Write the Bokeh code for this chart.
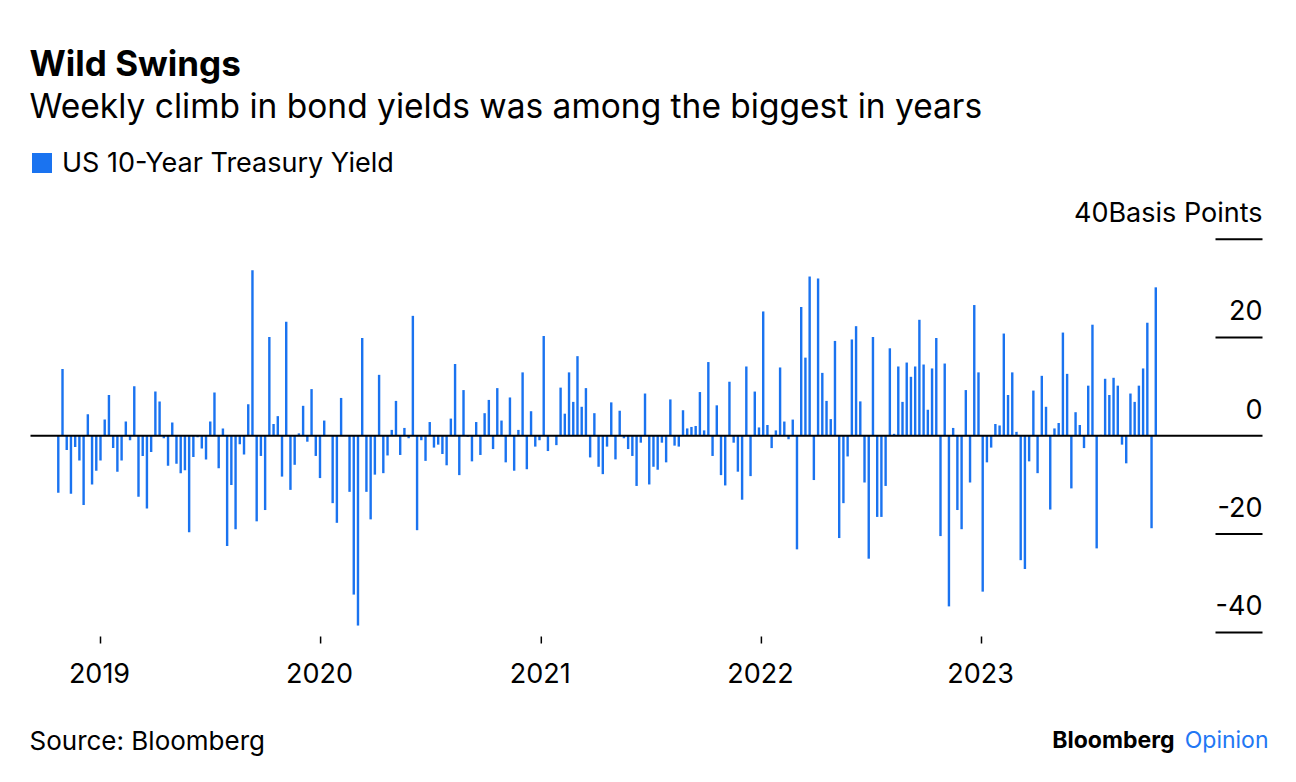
import pandas as pd
from bokeh.plotting import figure
from bokeh.models import Range1d, Label, Legend, LegendItem, ColumnDataSource
from bokeh.core.properties import value
from bokeh.embed import file_html
from bokeh.resources import INLINE

# ---------------- data ----------------
first_week_ending = "2018-10-26"   # weekly (Friday) changes, basis points
changes_bp = [
    -11.6, 13.6, -2.9, -11.8, -2.3, -5.0, -14.1, 4.4, -9.9, -7.1,
    -5.0, 3.3, 8.3, -2.5, -7.3, -5.0, 2.9, -0.9, 10.1, -12.4,
    -4.1, -14.8, -3.3, 9.0, 7.0, -0.5, -6.1, 2.7, -5.7, -7.6,
    -7.0, -19.6, -4.3, -0.3, -2.6, -4.8, 2.9, 8.8, -6.6, 1.5,
    -22.4, -10.0, -19.0, -1.7, -3.8, 6.4, 33.7, -17.4, -4.1, -15.1,
    20.1, 2.4, 4.0, -8.3, 23.2, -11.0, -5.9, 0.5, 6.1, -1.2,
    9.5, -4.1, -8.6, 3.1, 0.1, -13.7, -17.7, 7.7, 0.1, -11.4,
    -32.3, -38.6, 19.9, -11.4, -17.0, -7.9, 12.4, -7.6, -4.0, 1.2,
    7.1, -3.9, 1.6, -0.5, 24.4, -19.2, -0.9, -5.1, 2.8, -2.4,
    -1.8, -3.7, -6.0, 3.5, 14.6, -8.0, 9.3, -0.2, -5.2, 2.8,
    -3.9, 4.6, 7.3, -2.7, 9.7, 3.1, -5.4, 7.8, -7.1, 1.2,
    12.9, -6.8, 5.0, -2.2, -0.9, 20.3, -3.1, 0.1, -1.9, 9.8,
    4.5, 12.9, 6.9, 16.2, 5.9, 9.7, -4.4, 4.6, -6.3, -7.8,
    -2.2, 6.8, -4.8, 5.1, -0.5, -2.7, -4.1, -10.2, -1.4, 8.6,
    -9.9, -6.3, -6.9, -1.4, -5.4, 7.4, -2.0, -2.2, 5.2, 1.5,
    1.8, 2.0, 8.9, 1.1, 15.0, -4.1, 6.2, -8.0, -10.1, 11.0,
    -1.4, -7.3, -13.0, 14.1, -8.2, 9.0, 1.7, 25.3, 2.2, -2.5,
    1.1, 13.9, 2.9, -0.7, 3.3, -23.1, 26.2, 15.9, 32.4, -9.0,
    32.0, 12.8, 7.1, 3.4, 19.3, -20.8, -13.7, -4.2, 19.6, 22.3,
    7.0, -9.5, -25.0, 20.1, -16.5, -16.5, -10.2, 17.8, 0.4, 14.1,
    6.9, 14.9, 12.0, 14.1, 23.6, 14.5, 5.3, 13.7, 19.9, -20.4,
    14.7, -34.7, 1.6, -15.1, -19.0, 9.3, -9.5, 26.6, 12.9, -31.7,
    -5.4, -2.4, 2.4, 2.1, 20.8, 8.3, 12.9, 0.8, -25.3, -27.1,
    -5.2, 9.2, -7.6, 12.2, 5.9, -15.0, 1.5, 2.6, 21.0, 12.6,
    -10.7, 4.8, 2.2, -2.5, 10.2, 22.6, -22.9, 0.2, 11.6, 8.3,
    11.8, 10.2, -1.8, -5.6, 8.6, 6.9, 10.2, 13.7, 23.0, -18.8,
    30.2,
]
year_ticks = ["2019-01-01", "2020-01-01", "2021-01-01", "2022-01-01", "2023-01-01"]
year_labels = ["2019", "2020", "2021", "2022", "2023"]
y_tick_values = [40, 20, 0, -20, -40]
y_tick_labels = ["40Basis Points", "20", "0", "-20", "-40"]
series_name = "US 10-Year Treasury Yield"

title_text = "Wild Swings"
subtitle_text = "Weekly climb in bond yields was among the biggest in years"
source_text = "Source: Bloomberg"

# ---------------- layout / styling constants ----------------
BLUE = "#1a73f0"
FONT = "Inter"
DAY_MS = 86400000
W, H = 1296, 782

px_per_day = (981 - 100) / 1461.0          # horizontal scale
ref_date = pd.Timestamp(year_ticks[0])      # sits at canvas x = 100
px_per_bp = 4.916                           # vertical scale
zero_px = 435.3                             # canvas y of the zero line

def date_at(px):
    return ref_date + pd.Timedelta(days=(px - 100) / px_per_day)

def val_at(py):
    return (zero_px - py) / px_per_bp

axis_left, axis_right = date_at(30), date_at(1262)
tick_mark_left = date_at(1215)

week_ending = pd.date_range(first_week_ending, periods=len(changes_bp), freq="W-FRI")
mid_week = week_ending - pd.Timedelta(days=3)
src = ColumnDataSource(dict(x=mid_week, y=changes_bp))

p = figure(width=W, height=H, x_axis_type="datetime",
           x_axis_location=None, y_axis_location=None,
           x_range=Range1d(date_at(0), date_at(W)),
           y_range=Range1d(val_at(H), val_at(0)),
           output_backend="svg", toolbar_location=None, min_border=0)
p.outline_line_color = None
p.grid.visible = False
p.background_fill_color = "white"
p.border_fill_color = "white"

bars = p.vbar(x="x", top="y", bottom=0, width=4 * DAY_MS, source=src,
              fill_color=BLUE, line_color=None)

# zero line
p.segment(x0=[axis_left], x1=[axis_right], y0=[0], y1=[0], line_color="black", line_width=2)

# right-hand value ticks (short rules) and labels above them
nz = [v for v in y_tick_values if v != 0]
p.segment(x0=[tick_mark_left] * len(nz), x1=[axis_right] * len(nz), y0=nz, y1=nz,
          line_color="black", line_width=2)
p.text(x=[axis_right] * len(y_tick_values), y=y_tick_values, text=y_tick_labels,
       text_align="right", text_baseline="middle", y_offset=-27,
       text_font=value(FONT), text_font_size="27px", text_color="black")

# bottom year ticks and labels
year_dates = [pd.Timestamp(t) for t in year_ticks]
p.segment(x0=year_dates, x1=year_dates, y0=[val_at(636)] * 5, y1=[val_at(643)] * 5,
          line_color="black", line_width=1.5)
p.text(x=year_dates, y=[val_at(672)] * 5, text=year_labels, x_offset=-1,
       text_align="center", text_baseline="middle",
       text_font=value(FONT), text_font_size="27px", text_color="black")

def lab(text, xc, yc, size, bold=False, color="black", align="left"):
    p.add_layout(Label(x=xc, y=H - yc, x_units="screen", y_units="screen",
                       text=text, text_font=FONT, text_font_size=size,
                       text_font_style="bold" if bold else "normal",
                       text_color=color, text_align=align, text_baseline="middle"))

lab(title_text, 29, 62, "35px", bold=True)
lab(subtitle_text, 29, 105, "33.5px")
lab(source_text, 29, 740, "26px")
lab("Opinion", 1268, 739, "23px", color="#2277f4", align="right")
lab("Bloomberg", 1174, 739, "23px", bold=True, align="right")

legend = Legend(items=[LegendItem(label=series_name, renderers=[bars])],
                location=(29, H - 179), orientation="horizontal",
                glyph_width=25, glyph_height=25, label_standoff=8,
                label_text_font=FONT, label_text_font_size="27px",
                label_text_color="black", padding=0, margin=0, spacing=0,
                border_line_color=None, background_fill_alpha=0)
legend.location = (29, H - 179)
p.add_layout(legend)

open("out.html", "w").write(file_html(p, INLINE))
